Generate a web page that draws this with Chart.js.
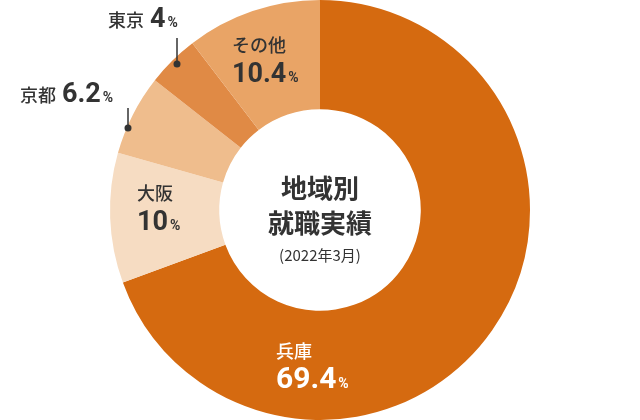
<!DOCTYPE html>
<html><head><meta charset="utf-8">
<script src="https://cdn.jsdelivr.net/npm/chart.js@4"></script>
<style>html,body{margin:0;padding:0;background:#fff}#w{width:640px;height:420px}</style>
</head><body><div id="w"><canvas id="c"></canvas></div>
<script>
const categories = ['兵庫','大阪','京都','東京','その他'];
const values = [69.4, 10, 6.2, 4, 10.4];
const colors = ['#d56a10','#f6dcc2','#efbd8d','#e08a45','#e9a466'];
const F = '"Noto Sans CJK JP","Noto Sans",sans-serif';
const N = 'Roboto,"Noto Sans",sans-serif';
function lbl(ctx, name, num, x, y, col, inline, big){
  ctx.fillStyle = col; ctx.textBaseline='alphabetic'; ctx.textAlign='left';
  ctx.font = '500 18px '+F;
  let nx = x, ny = y + 30;
  if(inline){ ctx.fillText(name, x, y); nx = x + ctx.measureText(name).width + 6; ny = y; }
  else ctx.fillText(name, x, y);
  const s = big||27;
  ctx.font = 'bold '+s+'px '+N; ctx.fillText(num, nx, ny);
  const w = ctx.measureText(num).width;
  ctx.font = 'bold 14px '+N; ctx.fillText('%', nx + w + 2, ny);
}
const plugin = {id:'labels', afterDraw(chart){
  const ctx = chart.ctx; ctx.save();
  const dark = '#333';
  lbl(ctx, categories[0], String(values[0]), 276, 358, '#fff', false, 30);
  lbl(ctx, categories[1], String(values[1]), 137, 200, dark);
  lbl(ctx, categories[4], String(values[4]), 232, 52, dark);
  lbl(ctx, categories[3], String(values[3]), 108, 27, dark, true);
  lbl(ctx, categories[2], String(values[2]), 20, 102, dark, true);
  ctx.strokeStyle = dark; ctx.fillStyle = dark; ctx.lineWidth = 1.5;
  ctx.beginPath(); ctx.moveTo(177,38); ctx.lineTo(177,63); ctx.stroke();
  ctx.beginPath(); ctx.arc(177,64,3.5,0,Math.PI*2); ctx.fill();
  ctx.beginPath(); ctx.moveTo(128,108); ctx.lineTo(128,127); ctx.stroke();
  ctx.beginPath(); ctx.arc(128,128,3.5,0,Math.PI*2); ctx.fill();
  ctx.textAlign='center'; ctx.fillStyle = dark;
  ctx.font = 'bold 26px '+F;
  ctx.fillText('地域別', 320, 198);
  ctx.fillText('就職実績', 320, 233);
  ctx.font = '15px '+F;
  ctx.fillText('(2022年3月)', 320, 261);
  ctx.restore();
}};
new Chart(document.getElementById('c'), {
  type:'doughnut',
  data:{labels:categories, datasets:[{data:values, backgroundColor:colors, borderWidth:0}]},
  options:{responsive:true, maintainAspectRatio:false, animation:false, cutout:'48%',
    layout:{padding:0},
    plugins:{legend:{display:false}, tooltip:{enabled:false}}},
  plugins:[plugin]
});
</script></body></html>
